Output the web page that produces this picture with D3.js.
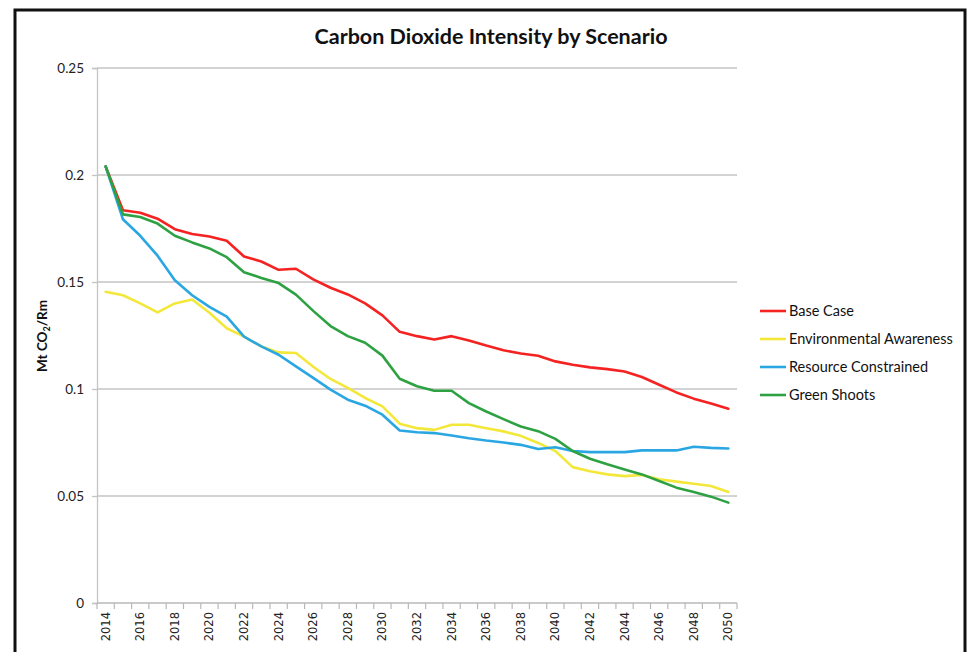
<!DOCTYPE html>
<html><head><meta charset="utf-8">
<script src="https://cdn.jsdelivr.net/npm/d3@7/dist/d3.min.js"></script>
<style>body{margin:0;background:#fff}svg{display:block}</style>
</head><body><svg id="c" width="970" height="652"></svg>
<script>
const years = d3.range(2014, 2051).map(String);
const yTicks = [0, 0.05, 0.1, 0.15, 0.2, 0.25];
const yTickLabels = ["0", "0.05", "0.1", "0.15", "0.2", "0.25"];
const seriesNames = ["Base Case", "Environmental Awareness", "Resource Constrained", "Green Shoots"];
const seriesColors = ["#f52222", "#f3e83a", "#2aa7e2", "#2ea243"];
const baseCase = [0.204,0.1835,0.1824,0.1796,0.1747,0.1724,0.1713,0.1693,0.1619,0.1596,0.1557,0.1562,0.1512,0.1473,0.1442,0.1400,0.1344,0.1267,0.1247,0.1231,0.1247,0.1227,0.1203,0.1181,0.1166,0.1155,0.1129,0.1113,0.1101,0.1093,0.1082,0.1056,0.1020,0.0984,0.0955,0.0932,0.0908];
const envAwareness = [0.1454,0.1438,0.1400,0.1358,0.1400,0.1418,0.1356,0.1284,0.1245,0.1199,0.1171,0.1168,0.1104,0.1047,0.1005,0.0958,0.0919,0.0838,0.0817,0.0809,0.0833,0.0833,0.0817,0.0802,0.0781,0.0748,0.0710,0.0635,0.0616,0.0601,0.0593,0.0598,0.0578,0.0567,0.0557,0.0547,0.0519];
const resConstrained = [0.204,0.1793,0.1716,0.1623,0.1508,0.1438,0.1384,0.1338,0.1245,0.1199,0.1160,0.1106,0.1052,0.0997,0.0950,0.0922,0.0880,0.0806,0.0798,0.0794,0.0783,0.0770,0.0759,0.0750,0.0739,0.0720,0.0728,0.0710,0.0705,0.0705,0.0705,0.0713,0.0713,0.0713,0.0730,0.0725,0.0722];
const greenShoots = [0.204,0.1816,0.1804,0.1773,0.1716,0.1685,0.1657,0.1616,0.1546,0.1519,0.1495,0.1441,0.1365,0.1294,0.1247,0.1216,0.1156,0.1048,0.1013,0.0992,0.0992,0.0934,0.0895,0.0859,0.0825,0.0803,0.0767,0.0710,0.0674,0.0648,0.0624,0.0601,0.0570,0.0539,0.0519,0.0497,0.0469];
const seriesData = [baseCase, envAwareness, resConstrained, greenShoots];

const svg = d3.select("#c");
// frame
svg.append("rect").attr("x", 15).attr("y", 10).attr("width", 950).attr("height", 660)
  .attr("fill", "#fff").attr("stroke", "#111").attr("stroke-width", 3);

const L = 97, R = 737, T = 68, B = 603;
const x = d3.scaleBand().domain(years).range([L, R]).padding(0);
const y = d3.scaleLinear().domain([0, 0.25]).range([B, T]);
const cx = d => x(d) + x.bandwidth() / 2;

// gridlines
svg.append("g").selectAll("line").data(yTicks.filter(v => v > 0)).join("line")
  .attr("x1", L).attr("x2", R).attr("y1", d => y(d)).attr("y2", d => y(d))
  .attr("stroke", "#c4c4c4").attr("stroke-width", 1.3);

// y axis
const yAxis = svg.append("g").attr("transform", `translate(${L},0)`)
  .call(d3.axisLeft(y).tickValues(yTicks).tickSize(5).tickPadding(8)
    .tickFormat((d, i) => yTickLabels[i]));
yAxis.select(".domain").attr("stroke", "#c4c4c4").attr("stroke-width", 1.3);
yAxis.selectAll(".tick line").attr("stroke", "#c4c4c4").attr("stroke-width", 1.3);
yAxis.selectAll("text").attr("font-family", "Lato, 'Open Sans', sans-serif")
  .attr("font-size", 13.5).attr("fill", "#222");

// x axis
const xg = svg.append("g").attr("transform", `translate(0,${B})`);
xg.append("line").attr("x1", L).attr("x2", R).attr("y1", 0).attr("y2", 0)
  .attr("stroke", "#b8b8b8").attr("stroke-width", 1.5);
const bounds = years.map(d => x(d)).concat([x(years[years.length - 1]) + x.bandwidth()]);
xg.selectAll("line.tk").data(bounds).join("line").attr("class", "tk")
  .attr("x1", d => d).attr("x2", d => d).attr("y1", 0).attr("y2", 6)
  .attr("stroke", "#b8b8b8").attr("stroke-width", 1.2);
xg.selectAll("text").data(years.filter((d, i) => i % 2 === 0)).join("text")
  .attr("transform", d => `translate(${cx(d) + 4},9) rotate(-90)`)
  .attr("text-anchor", "end")
  .attr("font-family", "'DejaVu Sans', sans-serif").attr("font-size", 11.5)
  .attr("fill", "#222").text(d => d);

// lines
const line = d3.line().x((v, i) => cx(years[i])).y(v => y(v));
svg.append("g").selectAll("path").data(seriesData).join("path")
  .attr("d", d => line(d)).attr("fill", "none")
  .attr("stroke", (d, i) => seriesColors[i]).attr("stroke-width", 2.6)
  .attr("stroke-linejoin", "round").attr("stroke-linecap", "round");

// title
svg.append("text").attr("x", 491).attr("y", 44).attr("text-anchor", "middle")
  .attr("font-family", "Lato, 'Open Sans', sans-serif").attr("font-weight", "bold")
  .attr("font-size", 21.5).attr("fill", "#111").text("Carbon Dioxide Intensity by Scenario");

// y label
const yl = svg.append("text").attr("transform", "translate(47,336) rotate(-90)")
  .attr("text-anchor", "middle").attr("font-family", "Lato, 'Open Sans', sans-serif")
  .attr("font-weight", "bold").attr("font-size", 13.5).attr("fill", "#111");
yl.append("tspan").text("Mt CO");
yl.append("tspan").attr("font-size", 9).attr("dy", 3).text("2");
yl.append("tspan").attr("dy", -3).text("/Rm");

// legend
const lg = svg.append("g").selectAll("g").data(seriesNames).join("g")
  .attr("transform", (d, i) => `translate(760,${311 + i * 28})`);
lg.append("line").attr("x1", 0).attr("x2", 26).attr("y1", 0).attr("y2", 0)
  .attr("stroke", (d, i) => seriesColors[i]).attr("stroke-width", 2.6);
lg.append("text").attr("x", 29).attr("y", 5).attr("font-family", "Lato, 'Open Sans', sans-serif")
  .attr("font-size", 14.5).attr("fill", "#111").text(d => d);
</script></body></html>
